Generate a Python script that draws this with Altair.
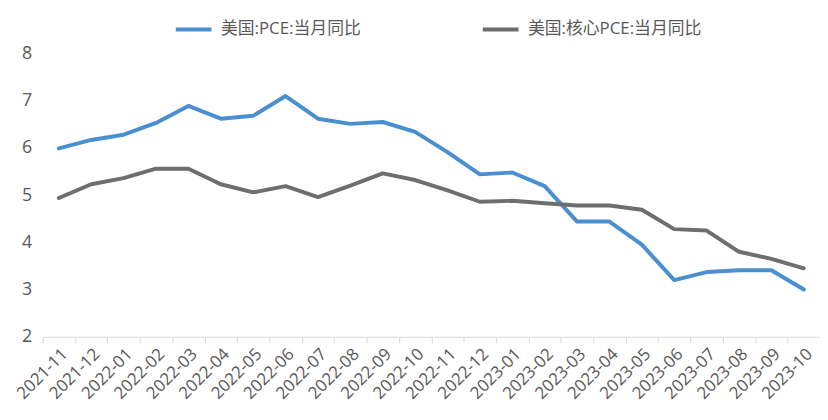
import altair as alt
import pandas as pd

months = ["2021-11", "2021-12", "2022-01", "2022-02", "2022-03", "2022-04",
          "2022-05", "2022-06", "2022-07", "2022-08", "2022-09", "2022-10",
          "2022-11", "2022-12", "2023-01", "2023-02", "2023-03", "2023-04",
          "2023-05", "2023-06", "2023-07", "2023-08", "2023-09", "2023-10"]
pce = [5.99, 6.17, 6.28, 6.53, 6.89, 6.62, 6.68, 7.10, 6.62, 6.51, 6.55, 6.34,
       5.91, 5.44, 5.48, 5.19, 4.44, 4.44, 3.95, 3.20, 3.37, 3.41, 3.41, 3.00]
core = [4.94, 5.23, 5.36, 5.56, 5.56, 5.23, 5.06, 5.19, 4.96, 5.20, 5.46, 5.32,
        5.10, 4.86, 4.88, 4.83, 4.78, 4.78, 4.69, 4.28, 4.25, 3.80, 3.65, 3.45]
series = ["美国:PCE:当月同比", "美国:核心PCE:当月同比"]
colors = ["#4A8FD0", "#6E6E6E"]

rows = []
for s, vals in zip(series, [pce, core]):
    for m, v in zip(months, vals):
        rows.append({"month": m, "value": v, "series": s})
df = pd.DataFrame(rows)

font = "Open Sans, Noto Sans CJK SC, sans-serif"

chart = alt.Chart(df).mark_line(strokeWidth=4, strokeCap="round", strokeJoin="round").encode(
    x=alt.X("month:N", sort=months, bandPosition=0.5,
            scale=alt.Scale(type="band", paddingInner=0, paddingOuter=0),
            axis=alt.Axis(title=None, labelAngle=-45, tickBand="extent",
                          domainColor="#D9D9D9", tickColor="#D9D9D9", tickSize=6,
                          labelFontSize=17, labelColor="#595959", labelFont=font,
                          labelPadding=3, grid=False)),
    y=alt.Y("value:Q", scale=alt.Scale(domain=[2, 8], nice=False, zero=False),
            axis=alt.Axis(title=None, values=[2, 3, 4, 5, 6, 7, 8], domain=False, ticks=False,
                          grid=False, labelFontSize=18, labelColor="#595959", labelFont=font,
                          labelPadding=11)),
    color=alt.Color("series:N", scale=alt.Scale(domain=series, range=colors),
                    legend=alt.Legend(title=None, orient="none", direction="horizontal",
                                      legendX=132, legendY=-45,
                                      symbolType="stroke", symbolSize=1300, symbolStrokeWidth=4,
                                      labelFontSize=17, labelColor="#595959", labelFont=font,
                                      labelLimit=400, columnPadding=114, labelOffset=7)),
).properties(
    width=785, height=286,
    autosize=alt.AutoSizeParams(type="none"),
    padding={"left": 35, "top": 44, "right": 0, "bottom": 74},
).configure_view(stroke=None)

chart.save("out.html", embed_options={"renderer": "svg", "actions": False})
